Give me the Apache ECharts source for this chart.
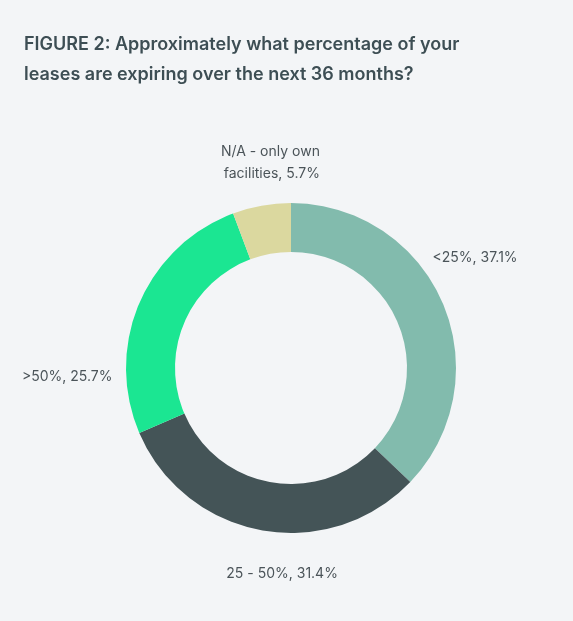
<!DOCTYPE html>
<html>
<head>
<meta charset="utf-8">
<script src="https://cdn.jsdelivr.net/npm/echarts@6/dist/echarts.min.js"></script>
<style>
  html, body { margin: 0; padding: 0; background: #f3f5f7; }
  #chart { width: 573px; height: 621px; }
</style>
</head>
<body>
<div id="chart"></div>
<script>
// slices, clockwise from 12 o'clock
var categories = ['<25%', '25 - 50%', '>50%', 'N/A - only own\nfacilities'];
var shares = [37.1, 31.4, 25.7, 5.7];
var colours = ['#82bbad', '#445457', '#1be692', '#dbd89f'];

// nudge for each outside label (dx, dy)
var labelNudge = [[-44, -39], [99, 29], [7, 80], [81, -28]];

var chart = echarts.init(document.getElementById('chart'));

var option = {
    backgroundColor: '#f3f5f7',
    animation: false,
    title: {
        text: 'FIGURE 2: Approximately what percentage of your\nleases are expiring over the next 36 months?',
        left: 19,
        top: 25,
        textStyle: {
            fontFamily: 'Inter',
            fontSize: 18,
            fontWeight: 600,
            color: '#3d4e54',
            lineHeight: 30
        }
    },
    series: [{
        type: 'pie',
        center: [291, 368],
        radius: [116, 165],
        startAngle: 90,
        clockwise: true,
        label: {
            show: true,
            position: 'outside',
            fontFamily: 'Inter',
            fontSize: 14,
            color: '#4b5459',
            lineHeight: 22,
            formatter: function (p) { return p.name + ', ' + p.value + '%'; }
        },
        labelLine: { show: false, length: 15, length2: 15 },
        labelLayout: function (p) {
            var n = labelNudge[p.dataIndex];
            return { dx: n[0], dy: n[1] };
        },
        emphasis: { disabled: true },
        data: categories.map(function (c, i) {
            return { name: c, value: shares[i], itemStyle: { color: colours[i] } };
        })
    }]
};

chart.setOption(option);
</script>
</body>
</html>
